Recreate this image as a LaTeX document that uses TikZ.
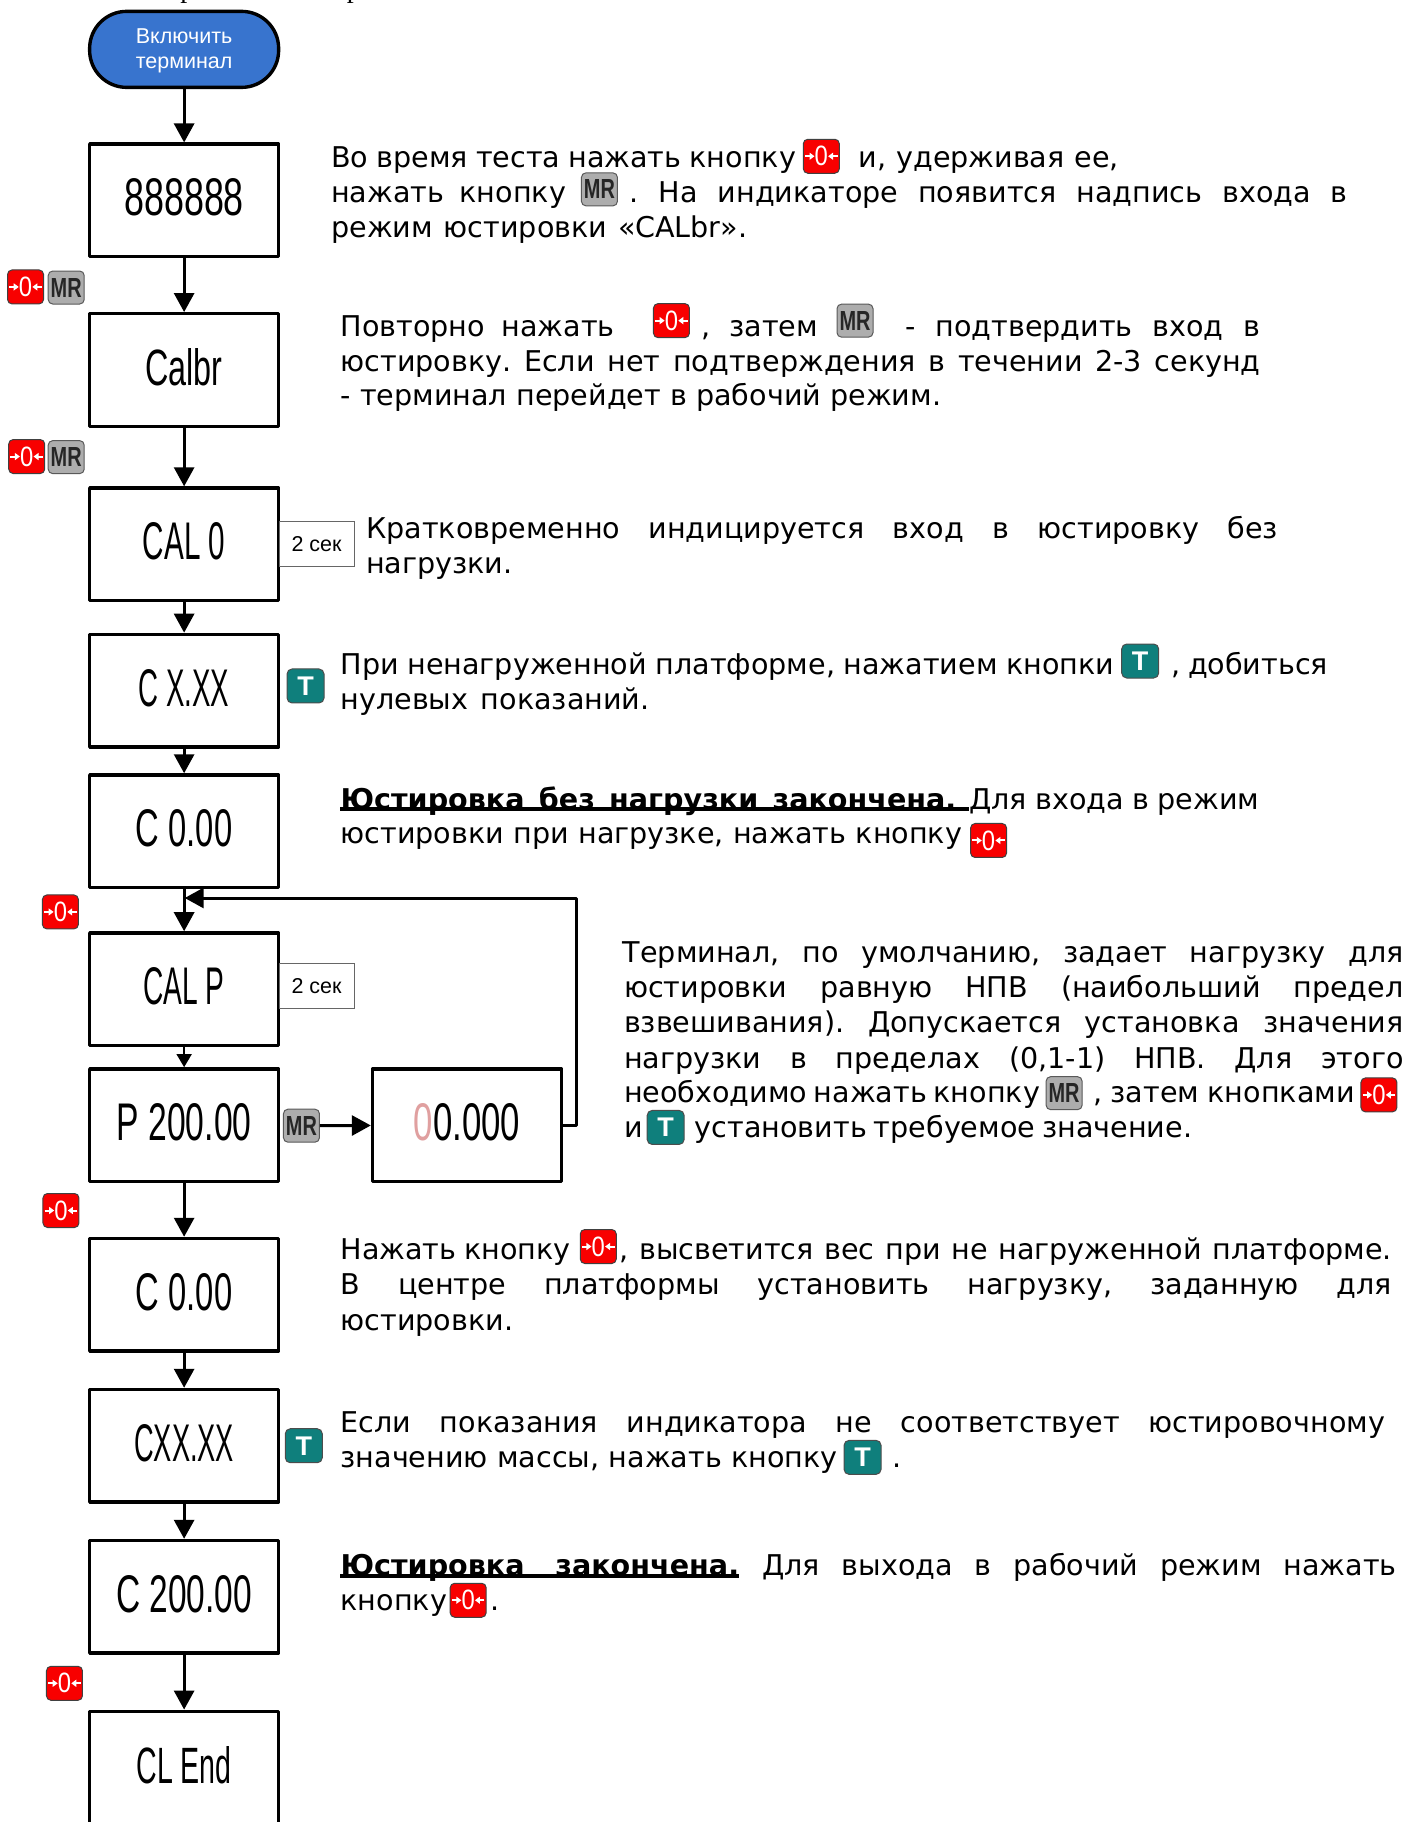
\documentclass[tikz,border=0pt]{standalone}
\usepackage{fontspec}
\usepackage{graphicx}
\usetikzlibrary{arrows.meta,shapes.geometric}
\setmainfont{DejaVu Sans}
\frenchspacing
\newfontfamily\labelfont{Liberation Sans}
\newfontfamily\topfont{Liberation Serif}
\newfontfamily\keyfont[FakeStretch=0.85]{Liberation Sans}
\definecolor{startblue}{HTML}{3874CE}
\definecolor{keyred}{HTML}{F80000}
\definecolor{keygray}{HTML}{ADADAD}
\definecolor{keyteal}{HTML}{0F7F7C}
\definecolor{dimred}{HTML}{E0A0A0}
\newlength{\un}\setlength{\un}{1.1617pt}
\newcommand{\J}[2]{\makebox[#1\un][s]{#2}}
\newcommand{\seg}[2]{\raisebox{6pt}{\resizebox{#1\un}{37pt}{\labelfont #2}}}
\tikzset{
 x=1.1617pt,y=-1.1617pt,
 flow/.style={line width=3.4pt,draw=black,fill=white,rectangle,inner sep=0pt,minimum width=189pt,minimum height=112.5pt,line join=round},
 conn/.style={line width=3pt,draw=black,-{Triangle[length=19pt,width=20pt]}},
 sec/.style={draw=black!60,line width=.8pt,fill=white,inner sep=0pt,minimum width=75pt,minimum height=45pt,font=\fontsize{21.5pt}{24pt}\labelfont},
 tl/.style={anchor=base west,inner sep=0pt,yshift=.7pt,font=\fontsize{28.6pt}{33pt}\selectfont},
 uline/.style={line width=3.8pt,draw=black,yshift=-1.8pt},
 topmark/.style={anchor=base west,inner sep=0pt,font=\fontsize{28pt}{30pt}\topfont},
 zerokey/.pic={
  \node[draw=black!75,line width=1pt,fill=keyred,rounded corners=4.5pt,minimum width=36pt,minimum height=34pt,inner sep=0pt] (-b) at (0,0) {};
  \node[text=white,inner sep=0pt,font=\fontsize{28pt}{28pt}\keyfont] (-z) at (0,0) {0};
  \coordinate (-l) at (-14,0); \coordinate (-r) at (14,0);
  \draw[white,line width=2pt,-{Triangle[length=5pt,width=7pt]}] (-l) -- (-z);
  \draw[white,line width=2pt,-{Triangle[length=5pt,width=7pt]}] (-r) -- (-z);
 },
 mrkey/.pic={
  \node[draw=black!65,line width=1pt,fill=keygray,rounded corners=4.5pt,minimum width=36pt,minimum height=33pt,inner sep=0pt,text=black!85] (-b) at (0,0) {\resizebox{31pt}{19pt}{\labelfont\bfseries MR}};
 },
 tkey/.pic={
  \node[draw=black!70,line width=1pt,fill=keyteal,rounded corners=5pt,minimum width=37pt,minimum height=34pt,inner sep=0pt,text=white,font=\bfseries\fontsize{27pt}{27pt}\labelfont] (-b) at (0,0) {T};
 },
}
\begin{document}
\begin{tikzpicture}
\path[use as bounding box] (0,0) rectangle (1212,1568.4);
\clip (0,0) rectangle (1212,1568.4);
\node[topmark] (top1) at (155,-2.5) {р};
\node[topmark] (top2) at (298.5,-2.5) {р};
% start
\node[draw=black,line width=3.4pt,fill=startblue,text=white,rounded corners=37pt,minimum width=189pt,minimum height=76pt,inner sep=0pt,align=center,font=\fontsize{21.5pt}{25.5pt}\labelfont] (start) at (158.5,42.5) {\rule{0pt}{18pt}Включить\\терминал};
% boxes
\node[flow] (a) at (158.5,172.5) {\seg{103}{888888}};
\node[flow] (b) at (158.5,318.5) {\seg{66.5}{Calbr}};
\node[flow] (c) at (158.5,468.5) {\seg{71}{CAL 0}};
\node[flow] (d) at (158.5,594.5) {\seg{78}{C X.XX}};
\node[flow] (e) at (158.5,715.5) {\seg{83}{C 0.00}};
\node[flow] (f) at (158.5,851.5) {\seg{70}{CAL P}};
\node[flow] (g) at (158.5,968.5) {\seg{116}{P 200.00}};
\node[flow] (g2) at (402,968.5) {\seg{91.5}{\textcolor{dimred}{0}0.000}};
\node[flow] (h) at (158.5,1114.5) {\seg{83}{C 0.00}};
\node[flow] (i) at (158.5,1244.5) {\seg{86}{CXX.XX}};
\node[flow] (j) at (158.5,1374.5) {\seg{117}{C 200.00}};
\node[flow] (k) at (158.5,1521.5) {\seg{82}{CL End}};
\node[sec] (s1) at (272.5,468.5) {2 сек};
\node[sec] (s2) at (272.5,848.5) {2 сек};
% keys on the flow
\pic (k1) at (22,247) {zerokey};
\pic (k2) at (57,247.5) {mrkey};
\pic (k3) at (23,393) {zerokey};
\pic (k4) at (57,393.5) {mrkey};
\pic (k5) at (263,590.5) {tkey};
\pic (k6) at (52,785) {zerokey};
\pic (k7) at (259.5,969) {mrkey};
\pic (k8) at (52.5,1042) {zerokey};
\pic (k9) at (261.5,1244.5) {tkey};
\pic (k10) at (55.5,1449) {zerokey};
% connectors
\draw[conn] (start) -- (a);
\draw[conn] (a) -- (b);
\draw[conn] (b) -- (c);
\draw[conn] (c) -- (d);
\draw[conn] (d) -- (e);
\coordinate (m) at (159,773);
\draw[conn] (e) -- (f);
\draw[line width=1.5pt,-{Triangle[length=13pt,width=15pt]}] (f) -- (g);
\draw[conn] (k7-b) -- (g2);
\draw[conn] (g) -- (h);
\draw[conn] (h) -- (i);
\draw[conn] (i) -- (j);
\draw[conn] (j) -- (k);
\draw[conn,line join=round] (g2.east) -- (496,968.5) -- (496,773) -- (m);
% text
\node[tl] (t1a) at (285,145) {\J{400}{Во время теста нажать кнопку}};
\pic (q1) at (707,134.5) {zerokey};
\node[tl] (t1b) at (739,145) {\J{224}{и, удерживая ее,}};
\node[tl] (t2a) at (285,175) {\J{202}{нажать кнопку}};
\pic (q2) at (516,163) {mrkey};
\node[tl] (t2b) at (542,175) {\J{618}{. На индикаторе появится надпись входа в}};
\node[tl] (t3) at (285,205) {\J{358}{режим юстировки «CALbr».}};
\node[tl] (p2a) at (293,290) {\J{236}{Повторно нажать}};
\pic (q3) at (578,276) {zerokey};
\node[tl] (p2b) at (604,290) {\J{100}{, затем}};
\pic (q4) at (736,276) {mrkey};
\node[tl] (p2c) at (779,290) {\J{306}{- подтвердить вход в}};
\node[tl] (p2d) at (293,320) {\J{792}{юстировку. Если нет подтверждения в течении 2-3 секунд}};
\node[tl] (p2e) at (293,350) {\J{517}{- терминал перейдет в рабочий режим.}};
\node[tl] (p3a) at (315,464) {\J{785}{Кратковременно индицируется вход в юстировку без}};
\node[tl] (p3b) at (315,494) {нагрузки.};
\node[tl] (p4a) at (293,581) {\J{666}{При ненагруженной платформе, нажатием кнопки}};
\pic (q5) at (981.5,569) {tkey};
\node[tl] (p4b) at (1008,581) {\J{135}{, добиться}};
\node[tl] (p4c) at (293,611) {\J{266}{нулевых показаний.}};
\node[tl] (p5a) at (293,697) {\J{530}{\bfseries Юстировка без нагрузки закончена.}};
\node[tl] (p5b) at (834,697) {\J{250}{Для входа в режим}};
\draw[uline] (p5a.base west) -- (p5b.base west);
\node[tl] (p5c) at (293,727) {\J{535}{юстировки при нагрузке, нажать кнопку}};
\pic (q6) at (851,723.5) {zerokey};
\node[tl] (p6a) at (536,829) {\J{672}{Терминал, по умолчанию, задает нагрузку для}};
\node[tl] (p6b) at (537,859) {\J{671}{юстировки равную НПВ (наибольший предел}};
\node[tl] (p6c) at (537,889) {\J{671}{взвешивания). Допускается установка значения}};
\node[tl] (p6d) at (537,920) {\J{671}{нагрузки в пределах (0,1-1) НПВ. Для этого}};
\node[tl] (p6e) at (537,950) {\J{358}{необходимо нажать кнопку}};
\pic (q7) at (916,941) {mrkey};
\node[tl] (p6f) at (941,950) {\J{225}{, затем кнопками}};
\pic (q8) at (1187,942.5) {zerokey};
\node[tl] (p6g) at (537,980) {и};
\pic (q9) at (573,970.5) {tkey};
\node[tl] (p6h) at (598,980) {\J{428}{установить требуемое значение.}};
\node[tl] (p7a) at (293,1085) {\J{198}{Нажать кнопку}};
\pic (q10) at (515,1073) {zerokey};
\node[tl] (p7b) at (533,1085) {\J{665}{, высветится вес при не нагруженной платформе.}};
\node[tl] (p7c) at (293,1115) {\J{905}{В центре платформы установить нагрузку, заданную для}};
\node[tl] (p7d) at (293,1146) {юстировки.};
\node[tl] (p8a) at (293,1234) {\J{899}{Если показания индикатора не соответствует юстировочному}};
\node[tl] (p8b) at (293,1264) {\J{428}{значению массы, нажать кнопку}};
\pic (q11) at (742.5,1254.5) {tkey};
\node[tl] (p8c) at (768,1264) {.};
\node[tl] (p9a) at (293,1357) {\J{343}{\bfseries Юстировка закончена.}};
\draw[uline] (p9a.base west) -- (p9a.base east);
\node[tl] (p9b) at (656,1357) {\J{546}{Для выхода в рабочий режим нажать}};
\node[tl] (p9c) at (293,1387) {кнопку};
\pic (q12) at (403,1377.5) {zerokey};
\node[tl] (p9d) at (422,1387) {.};
\end{tikzpicture}
\end{document}
